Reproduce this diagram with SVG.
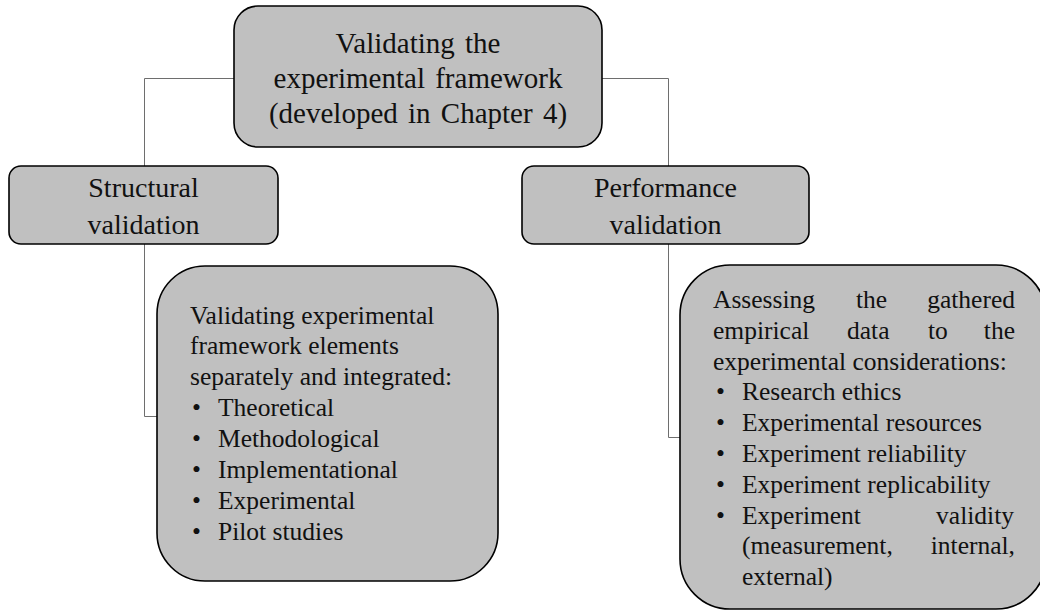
<svg xmlns="http://www.w3.org/2000/svg" width="1040" height="610" viewBox="0 0 1040 610">
<style>
.box{fill:#c0c0c0;stroke:#000;stroke-width:1.6}
.conn{fill:none;stroke:#6e6e6e;stroke-width:1}
text{font-family:"Liberation Serif","Times New Roman",serif;fill:#111}
.t{font-size:29px;text-anchor:middle;word-spacing:3px}
.h{font-size:28px;text-anchor:middle}
.b{font-size:25.5px}
.e{text-anchor:end}
</style>
<rect width="1040" height="610" fill="#fff"/>
<g id="connectors">
<polyline class="conn" points="234,78.5 144.5,78.5 144.5,166"/>
<polyline class="conn" points="602,78.5 668.5,78.5 668.5,166"/>
<polyline class="conn" points="144.5,244 144.5,416.5 157,416.5"/>
<polyline class="conn" points="668.5,244 668.5,437.5 680,437.5"/>
</g>
<g id="root">
<rect class="box" x="234" y="6" width="368" height="141" rx="24"/>
<text class="t" x="418" y="53">Validating the</text>
<text class="t" x="418" y="88">experimental framework</text>
<text class="t" x="418" y="123">(developed in Chapter 4)</text>
</g>
<g id="structural">
<rect class="box" x="9" y="166" width="269" height="78" rx="12"/>
<text class="h" x="143.5" y="197">Structural</text>
<text class="h" x="143.5" y="234">validation</text>
</g>
<g id="performance">
<rect class="box" x="522" y="166" width="287" height="78" rx="12"/>
<text class="h" x="665.5" y="197">Performance</text>
<text class="h" x="665.5" y="234">validation</text>
</g>
<g id="structural-detail">
<rect class="box" x="157" y="266" width="341" height="315" rx="48"/>
<text class="b" x="190" y="323.5">Validating experimental</text>
<text class="b" x="190" y="354.4">framework elements</text>
<text class="b" x="190" y="385.3">separately and integrated:</text>
<text class="b" x="192" y="416.2">•</text><text class="b" x="218" y="416.2">Theoretical</text>
<text class="b" x="192" y="447.1">•</text><text class="b" x="218" y="447.1">Methodological</text>
<text class="b" x="192" y="478">•</text><text class="b" x="218" y="478">Implementational</text>
<text class="b" x="192" y="508.9">•</text><text class="b" x="218" y="508.9">Experimental</text>
<text class="b" x="192" y="539.8">•</text><text class="b" x="218" y="539.8">Pilot studies</text>
</g>
<g id="performance-detail">
<rect class="box" x="680" y="265" width="366" height="344" rx="50"/>
<text class="b" x="713" y="308">Assessing</text>
<text class="b" x="856" y="308">the</text>
<text class="b e" x="1015" y="308">gathered</text>
<text class="b" x="713" y="338.8">empirical</text>
<text class="b" x="847" y="338.8">data</text>
<text class="b" x="928" y="338.8">to</text>
<text class="b e" x="1015" y="338.8">the</text>
<text class="b" x="713" y="369.6">experimental considerations:</text>
<text class="b" x="716" y="400.4">•</text><text class="b" x="742" y="400.4">Research ethics</text>
<text class="b" x="716" y="431.2">•</text><text class="b" x="742" y="431.2">Experimental resources</text>
<text class="b" x="716" y="462">•</text><text class="b" x="742" y="462">Experiment reliability</text>
<text class="b" x="716" y="492.8">•</text><text class="b" x="742" y="492.8">Experiment replicability</text>
<text class="b" x="716" y="523.6">•</text><text class="b" x="742" y="523.6">Experiment</text>
<text class="b e" x="1014" y="523.6">validity</text>
<text class="b" x="742" y="554.4">(measurement,</text>
<text class="b e" x="1015" y="554.4">internal,</text>
<text class="b" x="742" y="585.2">external)</text>
</g>
</svg>
